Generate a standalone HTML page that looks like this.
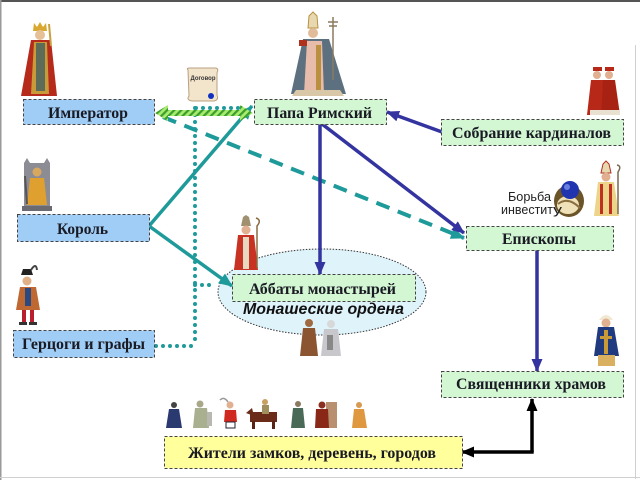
<!DOCTYPE html>
<html>
<head>
<meta charset="utf-8">
<style>
html,body{margin:0;padding:0;background:#fff;}
body{width:640px;height:480px;overflow:hidden;}
svg{display:block;}
.bx{font-family:"Liberation Serif",serif;font-weight:bold;font-size:16px;fill:#1a1a24;}
</style>
</head>
<body>
<svg width="640" height="480" viewBox="0 0 640 480" xmlns="http://www.w3.org/2000/svg">
<defs>
  <marker id="mb" markerWidth="13" markerHeight="11" refX="12" refY="5.5" orient="auto" markerUnits="userSpaceOnUse">
    <path d="M0,0 L13,5.5 L0,11 z" fill="#3434a0"/>
  </marker>
  <marker id="mt" markerWidth="14" markerHeight="12" refX="13" refY="6" orient="auto" markerUnits="userSpaceOnUse">
    <path d="M0,0 L14,6 L0,12 z" fill="#1f9a9a"/>
  </marker>
  <marker id="mk" markerWidth="13" markerHeight="11" refX="12" refY="5.5" orient="auto" markerUnits="userSpaceOnUse">
    <path d="M0,0 L13,5.5 L0,11 z" fill="#000"/>
  </marker>
  <pattern id="hatch" width="5" height="5" patternUnits="userSpaceOnUse" patternTransform="rotate(45)">
    <rect width="5" height="5" fill="#a6ec6e"/>
    <rect width="2.2" height="5" fill="#3c9c2c"/>
  </pattern>
</defs>

<!-- frame -->
<rect x="0" y="0" width="640" height="2" fill="#555"/>
<rect x="0" y="0" width="1.5" height="480" fill="#9a9a9a"/>
<rect x="635" y="45" width="1" height="434" fill="#d0d0d0"/>
<rect x="0" y="477" width="640" height="1" fill="#d0d0d0"/>

<!-- ellipse -->
<ellipse cx="322" cy="292" rx="104" ry="43" fill="#dff3fb" stroke="#333" stroke-width="1" stroke-dasharray="1.5 1.5"/>

<!-- teal dotted lines -->
<g stroke="#1f9a9a" stroke-width="4" stroke-linecap="round" stroke-dasharray="0 7" fill="none">
  <path d="M196,108 L244,108"/>
  <path d="M195,108 L195,346"/>
  <path d="M195,285 L216,285"/>
  <path d="M156,346 L195,346"/>
</g>

<!-- teal dashed -->
<line x1="163" y1="117" x2="464" y2="238" stroke="#1f9a9a" stroke-width="4" stroke-dasharray="14 9" marker-end="url(#mt)"/>

<!-- teal solid from King -->
<line x1="149" y1="226" x2="252" y2="106" stroke="#1f9a9a" stroke-width="3.5" marker-end="url(#mt)"/>
<line x1="149" y1="226" x2="232" y2="286" stroke="#1f9a9a" stroke-width="3.5" marker-end="url(#mt)"/>

<!-- blue lines -->
<line x1="320" y1="124" x2="320" y2="274" stroke="#3434a0" stroke-width="3.5" marker-end="url(#mb)"/>
<line x1="322" y1="124" x2="464" y2="233" stroke="#3434a0" stroke-width="3.5" marker-end="url(#mb)"/>
<line x1="442" y1="132" x2="387" y2="112" stroke="#3434a0" stroke-width="3.5" marker-end="url(#mb)"/>
<line x1="537" y1="250" x2="537" y2="371" stroke="#3434a0" stroke-width="3.5" marker-end="url(#mb)"/>

<!-- black double arrow -->
<path d="M532,452 L532,399" stroke="#000" stroke-width="3.5" fill="none" marker-end="url(#mk)"/>
<path d="M533.7,452 L462,452" stroke="#000" stroke-width="3.5" fill="none" marker-end="url(#mk)"/>

<!-- green hatched double arrow -->
<path d="M155,113 L168,105 L168,110 L240,110 L240,105 L253,113 L240,121 L240,116 L168,116 L168,121 Z" fill="url(#hatch)"/>

<!-- boxes -->
<g stroke="#444" stroke-width="1" stroke-dasharray="3 2">
  <rect x="23.5" y="99.5" width="131" height="25" fill="#9fcdf5"/>
  <rect x="254.5" y="99.5" width="132" height="25" fill="#d2f7d2"/>
  <rect x="441.5" y="119.5" width="182" height="26" fill="#d2f7d2"/>
  <rect x="17.5" y="214.5" width="132" height="27" fill="#9fcdf5"/>
  <rect x="466.5" y="226.5" width="147" height="24" fill="#d2f7d2"/>
  <rect x="232.5" y="274.5" width="183" height="27" fill="#d2f7d2"/>
  <rect x="13.5" y="330.5" width="141" height="27" fill="#9fcdf5"/>
  <rect x="441.5" y="371.5" width="182" height="26" fill="#d2f7d2"/>
  <rect x="164.5" y="436.5" width="298" height="32" fill="#ffff9c"/>
</g>

<g class="bx" text-anchor="middle">
  <text x="88" y="118" textLength="80" lengthAdjust="spacingAndGlyphs">Император</text>
  <text x="319.5" y="118" textLength="105" lengthAdjust="spacingAndGlyphs">Папа Римский</text>
  <text x="531.5" y="138" textLength="159" lengthAdjust="spacingAndGlyphs">Собрание кардиналов</text>
  <text x="82.5" y="234" textLength="51" lengthAdjust="spacingAndGlyphs">Король</text>
  <text x="539" y="244" textLength="74" lengthAdjust="spacingAndGlyphs">Епископы</text>
  <text x="322.5" y="294" textLength="147" lengthAdjust="spacingAndGlyphs">Аббаты монастырей</text>
  <text x="83.5" y="349" textLength="123" lengthAdjust="spacingAndGlyphs">Герцоги и графы</text>
  <text x="531" y="389" textLength="150" lengthAdjust="spacingAndGlyphs">Священники храмов</text>
  <text x="312" y="458" textLength="248" lengthAdjust="spacingAndGlyphs">Жители замков, деревень, городов</text>
</g>
<text x="323.5" y="314" text-anchor="middle" textLength="161" lengthAdjust="spacingAndGlyphs" style="font-family:'Liberation Sans',sans-serif;font-weight:bold;font-style:italic;font-size:16px;fill:#111;">Монашеские ордена</text>

<!-- scroll -->
<g>
  <path d="M188,70 Q186,68 190,68 L216,68 Q219,69 217,73 L217,95 Q219,100 214,101 L192,101 Q186,100 189,96 Z" fill="#f3e4cc" stroke="#b8a080" stroke-width="1"/>
  <text x="203" y="80" text-anchor="middle" style="font-family:'Liberation Sans',sans-serif;font-size:6px;font-weight:bold;fill:#333;">Договор</text>
  <circle cx="211" cy="96" r="3" fill="#1030c0"/>
</g>

<!-- Emperor -->
<g>
  <path d="M33,31 L34,23 L37,27 L40,22 L43,27 L46,23 L47,31 Z" fill="#d8a830"/>
  <circle cx="40" cy="35" r="5" fill="#e6c096"/>
  <path d="M31,40 L21,96 L57,96 L51,40 Z" fill="#b52a1a"/>
  <path d="M34,42 L31,94 L49,94 L47,42 Z" fill="#c89a38"/>
  <rect x="36" y="43" width="9" height="48" fill="#5d6c58"/>
  <line x1="49" y1="24" x2="51" y2="46" stroke="#c8a040" stroke-width="2"/>
</g>

<!-- Pope -->
<g>
  <path d="M308,28 L309,16 L313,12 L317,16 L318,28 Z" fill="#e8d8b0" stroke="#b89040" stroke-width="1"/>
  <circle cx="313" cy="33" r="5" fill="#e2bc98"/>
  <path d="M303,39 L291,94 L346,94 L329,39 Z" fill="#5d7080"/>
  <path d="M307,41 L304,94 L324,94 L322,41 Z" fill="#e8bcaa"/>
  <rect x="316" y="45" width="5" height="48" fill="#b89040"/>
  <rect x="299" y="40" width="8" height="6" fill="#b03020"/>
  <line x1="333" y1="17" x2="333" y2="80" stroke="#8a7a60" stroke-width="1.5"/>
  <line x1="328" y1="22" x2="338" y2="22" stroke="#8a7a60" stroke-width="1.5"/>
  <line x1="329" y1="26" x2="337" y2="26" stroke="#8a7a60" stroke-width="1.5"/>
  <path d="M296,90 L340,90 L344,96 L292,96 Z" fill="#d8c8a8"/>
</g>

<!-- King on throne -->
<g>
  <rect x="24" y="163" width="26" height="47" fill="#8c8c94"/>
  <path d="M24,163 L27,158 L30,163 L44,163 L47,158 L50,163" fill="#8c8c94"/>
  <circle cx="37" cy="172" r="4.5" fill="#d8a860"/>
  <path d="M30,178 L44,178 L47,205 L27,205 Z" fill="#e0a030"/>
  <line x1="25" y1="176" x2="27" y2="204" stroke="#555" stroke-width="2"/>
  <rect x="22" y="206" width="30" height="5" fill="#6a6a70"/>
</g>

<!-- Duke -->
<g>
  <path d="M21,275 L33,275 L31,269 L23,269 Z" fill="#222"/>
  <path d="M31,270 Q36,262 37,270" stroke="#444" stroke-width="2" fill="none"/>
  <circle cx="27" cy="281" r="4.5" fill="#e0b088"/>
  <path d="M20,287 L36,287 L40,310 L16,310 Z" fill="#c06832"/>
  <rect x="25" y="288" width="6" height="18" fill="#2c4a80"/>
  <rect x="22" y="310" width="4" height="12" fill="#b82030"/>
  <rect x="30" y="310" width="4" height="12" fill="#b82030"/>
  <rect x="19" y="322" width="8" height="3" fill="#333"/>
  <rect x="29" y="322" width="8" height="3" fill="#333"/>
</g>

<!-- Abbot -->
<g>
  <path d="M241,226 L243,217 L246,215 L249,217 L251,226 Z" fill="#a09070"/>
  <circle cx="246" cy="230" r="4.5" fill="#e0b090"/>
  <path d="M238,235 L254,235 L258,270 L234,270 Z" fill="#c83222"/>
  <rect x="243" y="237" width="6" height="32" fill="#e8d8c0"/>
  <path d="M256,218 Q262,220 257,226 L257,268" stroke="#8a6a40" stroke-width="1.5" fill="none"/>
</g>

<!-- Monks -->
<g>
  <circle cx="309" cy="323" r="4" fill="#a06a40"/>
  <path d="M303,328 L315,328 L318,356 L300,356 Z" fill="#8a5530"/>
  <circle cx="331" cy="324" r="4" fill="#d8d8d8"/>
  <path d="M324,329 L338,329 L341,356 L321,356 Z" fill="#c8c8cc"/>
  <rect x="327" y="335" width="6" height="15" fill="#888"/>
</g>

<!-- Cardinals -->
<g>
  <rect x="593" y="67" width="9" height="4" fill="#b82818"/>
  <rect x="605" y="67" width="9" height="4" fill="#b82818"/>
  <circle cx="597" cy="75" r="4" fill="#e0b090"/>
  <circle cx="609" cy="75" r="4" fill="#e0b090"/>
  <path d="M591,80 L603,80 L606,115 L587,115 Z" fill="#b82818"/>
  <path d="M603,80 L615,80 L620,115 L601,115 Z" fill="#a82214"/>
  <rect x="590" y="110" width="30" height="5" fill="#e8e0d0"/>
</g>

<!-- Bishop -->
<g>
  <path d="M601,173 L603,164 L606,161 L609,164 L611,173 Z" fill="#e8d8b0" stroke="#b03020" stroke-width="1"/>
  <circle cx="606" cy="177" r="4.5" fill="#e0b090"/>
  <path d="M598,182 L614,182 L619,216 L594,216 Z" fill="#ecd488"/>
  <rect x="600" y="184" width="3" height="30" fill="#c03020"/>
  <rect x="609" y="184" width="3" height="30" fill="#c03020"/>
  <path d="M617,165 Q622,166 618,172 L618,214" stroke="#7a6a50" stroke-width="1.5" fill="none"/>
</g>

<!-- Ring -->
<g>
  <ellipse cx="569" cy="201" rx="15" ry="16" fill="#6a5428"/>
  <ellipse cx="568" cy="205" rx="11" ry="9" fill="#f0e2b8"/>
  <path d="M558,204 Q568,196 580,208" stroke="#8a7040" stroke-width="2" fill="none"/>
  <circle cx="570" cy="190" r="9" fill="#2034b0"/>
  <circle cx="567" cy="187" r="3" fill="#6a80e0"/>
</g>
<g style="font-family:'Liberation Sans',sans-serif;font-size:12.5px;fill:#222;">
  <text x="508" y="201" textLength="43" lengthAdjust="spacingAndGlyphs">Борьба</text>
  <text x="501" y="214" textLength="52" lengthAdjust="spacingAndGlyphs">инвестит</text>
  <text x="553" y="214" textLength="9" lengthAdjust="spacingAndGlyphs">у</text>
</g>

<!-- Priest -->
<g>
  <path d="M599,320 Q606,310 613,320 Z" fill="#f0e8d0"/>
  <circle cx="606" cy="323" r="4.5" fill="#e0b090"/>
  <path d="M598,327 L614,327 L619,356 L594,356 Z" fill="#203a80"/>
  <rect x="604" y="330" width="4" height="24" fill="#c89a38"/>
  <rect x="600" y="336" width="12" height="3" fill="#c89a38"/>
  <rect x="598" y="355" width="17" height="11" fill="#d8b060"/>
</g>

<!-- People row -->
<g>
  <circle cx="174" cy="405" r="3" fill="#444"/>
  <path d="M169,409 L179,409 L182,428 L166,428 Z" fill="#2a3a70"/>
  <circle cx="200" cy="404" r="3.5" fill="#a8a888"/>
  <path d="M195,408 L207,408 L209,428 L193,428 Z" fill="#a8b090"/>
  <rect x="207" y="412" width="5" height="14" fill="#b8b8b0"/>
  <circle cx="230" cy="405" r="3.5" fill="#e0b090"/>
  <path d="M225,410 L236,410 L237,422 L224,422 Z" fill="#d02a20"/>
  <rect x="226" y="422" width="9" height="6" fill="#fff" stroke="#223" stroke-width="1"/>
  <path d="M220,400 Q224,396 228,402" stroke="#999" stroke-width="1.5" fill="none"/>
  <path d="M250,412 L277,412 L277,422 L250,422 Z" fill="#6a2c18"/>
  <rect x="252" y="421" width="3" height="8" fill="#5a2414"/>
  <rect x="272" y="421" width="3" height="8" fill="#5a2414"/>
  <path d="M246,413 L252,408 L254,416 Z" fill="#6a2c18"/>
  <circle cx="265" cy="402" r="3" fill="#c8a060"/>
  <rect x="262" y="405" width="7" height="9" fill="#a09060"/>
  <circle cx="298" cy="404" r="3" fill="#8a7a60"/>
  <path d="M293,408 L303,408 L305,428 L291,428 Z" fill="#4a6a58"/>
  <rect x="326" y="402" width="11" height="26" fill="#b89070"/>
  <circle cx="322" cy="405" r="3.5" fill="#8a3020"/>
  <path d="M316,409 L328,409 L329,428 L315,428 Z" fill="#8a2818"/>
  <circle cx="359" cy="405" r="3" fill="#d89a50"/>
  <path d="M354,409 L364,409 L367,428 L352,428 Z" fill="#e09840"/>
</g>
</svg>
</body>
</html>
